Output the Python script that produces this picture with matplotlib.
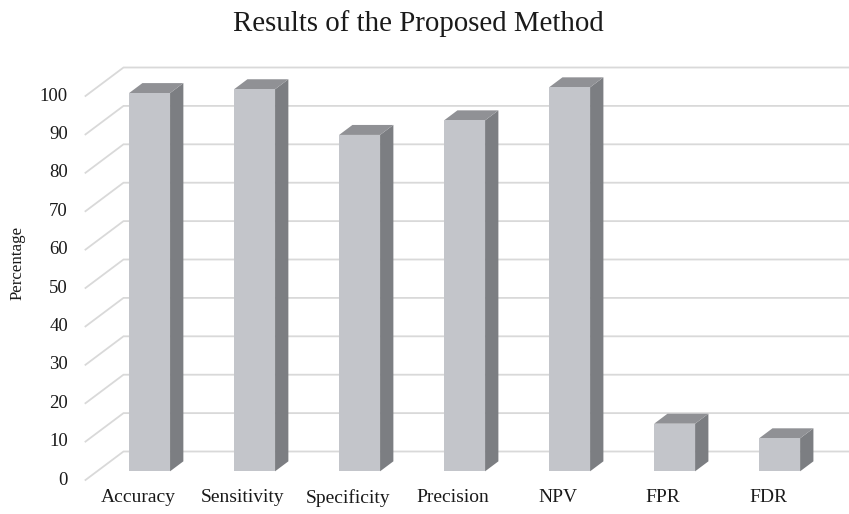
import matplotlib
matplotlib.use("Agg")
import matplotlib.pyplot as plt
from matplotlib.patches import Polygon

# Metric names and their scores (%)
categories = ["Accuracy", "Sensitivity", "Specificity", "Precision", "NPV", "FPR", "FDR"]
values = [98.5, 99.5, 87.6, 91.4, 100.0, 12.4, 8.6]
y_ticks = [0, 10, 20, 30, 40, 50, 60, 70, 80, 90, 100]

serif = ["Liberation Serif", "DejaVu Serif"]

# oblique projection: depth z in [0, 1] shifts x by DX (category units)
# and y by DV (value units)
DX = 0.362
DV = 7.42
BAR_W = 0.39
Z0, Z1 = 0.305, 0.655

FRONT = "#c3c5ca"
SIDE = "#7c7e82"
TOP = "#909195"
GRID = "#d9d9d9"
TEXT = "#1a1a1a"


def proj(c, v, z):
    return (c + DX * z, v + DV * z)


fig = plt.figure(figsize=(8.49, 5.14), dpi=100)
ax = fig.add_axes([0, 0, 1, 1])
ax.set_xlim(-1.314, 6.771)
ax.set_ylim(-8.854, 125.0)
ax.axis("off")

n = len(categories)
left = -0.5
right = n - 0.5

# side wall and back wall gridlines
for t in y_ticks:
    x0, y0 = proj(left, t, 0)
    x1, y1 = proj(left, t, 1)
    x2, y2 = proj(right + 1, t, 1)
    ax.plot([x0, x1, x2], [y0, y1, y2], color=GRID, lw=1.3,
            solid_joinstyle="miter", zorder=1)
    ax.text(-0.667, t, f"{t}", ha="right", va="center",
            fontsize=13.5, family=serif, color=TEXT)

# 3D columns
for i, (name, val) in enumerate(zip(categories, values)):
    cl = i - BAR_W / 2
    cr = i + BAR_W / 2
    front = [proj(cl, 0, Z0), proj(cr, 0, Z0), proj(cr, val, Z0), proj(cl, val, Z0)]
    side = [proj(cr, 0, Z0), proj(cr, 0, Z1), proj(cr, val, Z1), proj(cr, val, Z0)]
    top = [proj(cl, val, Z0), proj(cr, val, Z0), proj(cr, val, Z1), proj(cl, val, Z1)]
    ax.add_patch(Polygon(side, closed=True, facecolor=SIDE, edgecolor="none", zorder=3))
    ax.add_patch(Polygon(top, closed=True, facecolor=TOP, edgecolor="none", zorder=3))
    ax.add_patch(Polygon(front, closed=True, facecolor=FRONT, edgecolor="none", zorder=4))
    ax.text(i, -4.6, name, ha="center", va="center", fontsize=14,
            family=serif, color=TEXT)

ax.text(2.667, 119.0, "Results of the Proposed Method", ha="center", va="center",
        fontsize=20.8, family=serif, color=TEXT)
ax.text(-1.145, 56.5, "Percentage", ha="center", va="center", rotation=90,
        fontsize=12.2, family=serif, color=TEXT)

fig.savefig("out.png", dpi=100)
